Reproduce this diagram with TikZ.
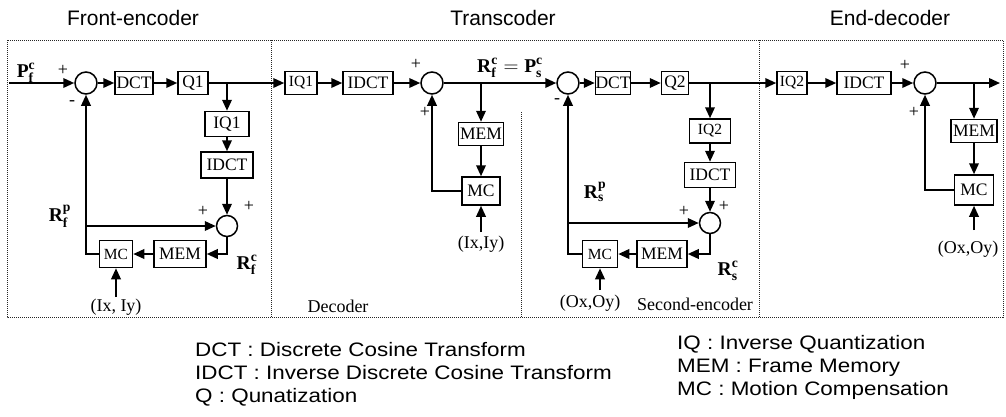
\documentclass[tikz,border=0pt]{standalone}
\usepackage{amsmath}
\usepackage{fontspec}
\setmainfont{Liberation Serif}
\setsansfont{Liberation Sans}
\newfontfamily\legfont{Liberation Sans}[FakeStretch=1.15]
\usetikzlibrary{arrows.meta}
\tikzset{
  blk/.style={draw, line width=1.5pt, inner sep=0pt, font=\fontsize{17.5}{19}\selectfont},
  blks/.style={blk, font=\fontsize{15.5}{17}\selectfont},
  sumc/.style={draw, circle, line width=1.5pt, minimum size=22pt, inner sep=0pt},
  conn/.style={line width=2pt},
  arr/.style={conn, -{Triangle[length=11pt,width=9.5pt]}},
  bord/.style={line width=0.9pt, dash pattern=on 1pt off 1pt, black!85},
  sgn/.style={font=\fontsize{18}{19}\selectfont, inner sep=0pt},
  lbl/.style={font=\fontsize{18}{20}\selectfont, inner sep=0pt},
  mlbl/.style={font=\fontsize{19.5}{21}\selectfont, inner sep=0pt},
  ttl/.style={font=\sffamily\fontsize{21}{24}\selectfont, inner sep=0pt},
  leg/.style={font=\legfont\fontsize{19.5}{22}\selectfont, anchor=base west, inner sep=0pt},
}
\begin{document}
\begin{tikzpicture}[x=1pt,y=-1pt]
\useasboundingbox (0,0) rectangle (1006,416);

% titles
\node[ttl] (t1) at (133,18) {Front-encoder};
\node[ttl] (t2) at (503,18) {Transcoder};
\node[ttl] (t3) at (890,18) {End-decoder};

% borders
\draw[bord] (7,40) rectangle (1003,317);
\draw[bord] (271,40) -- (271,317);
\draw[bord] (759,40) -- (759,317);
\draw[bord] (521,112) -- (521,317);

% ---------- Front encoder ----------
\coordinate (in1) at (9,83);
\node[sumc] (s1) at (86,83) {};
\node[blk, minimum width=38pt, minimum height=23pt] (dct1) at (134,83) {DCT};
\node[blk, minimum width=30pt, minimum height=23pt] (q1) at (193,83) {Q1};
\coordinate (b1) at (227,83);
\node[blk, minimum width=44pt, minimum height=25pt] (iq1) at (227,124) {IQ1};
\node[blk, minimum width=52pt, minimum height=26pt] (idct1) at (227,165) {IDCT};
\node[sumc, minimum size=21pt] (s2) at (227,226) {};
\node[blk, minimum width=52pt, minimum height=27pt] (mem1) at (180,254) {MEM};
\node[blks, minimum width=33pt, minimum height=27pt] (mc1) at (116,254) {MC};
\coordinate (fh1) at (86,226);
\coordinate (mcin1) at (116,297);

% ---------- Decoder ----------
\node[blks, minimum width=32pt, minimum height=23pt] (iq1b) at (301,83) {IQ1};
\node[blk, minimum width=50pt, minimum height=23pt] (idct2) at (368,83) {IDCT};
\node[sumc] (s3) at (432,83) {};
\coordinate (b2) at (481,83);
\node[blk, minimum width=45pt, minimum height=23pt] (mem2) at (481,134) {MEM};
\node[blk, minimum width=38pt, minimum height=28pt] (mc2) at (481,191) {MC};
\coordinate (mcin2) at (481,232);

% ---------- Second encoder ----------
\node[sumc] (s4) at (568,83) {};
\node[blk, minimum width=34pt, minimum height=23pt] (dct2) at (613,83) {DCT};
\node[blk, minimum width=27pt, minimum height=23pt] (q2) at (675,83) {Q2};
\coordinate (b3) at (710,83);
\node[blks, minimum width=41pt, minimum height=24pt] (iq2a) at (710,131) {IQ2};
\node[blk, minimum width=51pt, minimum height=25pt] (idct3) at (710,175) {IDCT};
\node[sumc, minimum size=21pt] (s5) at (710,223) {};
\node[blk, minimum width=50pt, minimum height=27pt] (mem3) at (662,254) {MEM};
\node[blks, minimum width=35pt, minimum height=27pt] (mc3) at (600,254) {MC};
\coordinate (fh2) at (568,223);
\coordinate (mcin3) at (600,290);

% ---------- End decoder ----------
\node[blks, minimum width=30pt, minimum height=23pt] (iq2b) at (792,83) {IQ2};
\node[blk, minimum width=54pt, minimum height=23pt] (idct4) at (864,83) {IDCT};
\node[sumc] (s6) at (925,83) {};
\coordinate (b4) at (974,83);
\coordinate (out) at (1000,83);
\node[blk, minimum width=46pt, minimum height=23pt] (mem4) at (974,131) {MEM};
\node[blk, minimum width=39pt, minimum height=30pt] (mc4) at (974,190) {MC};
\coordinate (mcin4) at (974,230);

% ---------- connectors: front encoder ----------
\draw[arr] (in1) -- (s1);
\draw[arr] (s1) -- (dct1);
\draw[arr] (dct1) -- (q1);
\draw[arr] (q1) -- (iq1b);
\draw[arr] (b1) -- (iq1);
\draw[arr] (iq1) -- (idct1);
\draw[arr] (idct1) -- (s2);
\draw[arr] (mc1.west) -| (s1.south);
\draw[arr] (fh1) -- (s2);
\draw[arr] (s2.south) |- (mem1.east);
\draw[arr] (mem1) -- (mc1);
\draw[arr] (mcin1) -- (mc1);

% ---------- connectors: decoder ----------
\draw[arr] (iq1b) -- (idct2);
\draw[arr] (idct2) -- (s3);
\draw[arr] (s3) -- (s4);
\draw[arr] (b2) -- (mem2);
\draw[arr] (mem2) -- (mc2);
\draw[arr] (mc2.west) -| (s3.south);
\draw[arr] (mcin2) -- (mc2);

% ---------- connectors: second encoder ----------
\draw[arr] (s4) -- (dct2);
\draw[arr] (dct2) -- (q2);
\draw[arr] (q2) -- (iq2b);
\draw[arr] (b3) -- (iq2a);
\draw[arr] (iq2a) -- (idct3);
\draw[arr] (idct3) -- (s5);
\draw[arr] (fh2) -- (s5);
\draw[arr] (s5.south) |- (mem3.east);
\draw[arr] (mem3) -- (mc3);
\draw[arr] (mc3.west) -| (s4.south);
\draw[arr] (mcin3) -- (mc3);

% ---------- connectors: end decoder ----------
\draw[arr] (iq2b) -- (idct4);
\draw[arr] (idct4) -- (s6);
\draw[arr] (s6) -- (out);
\draw[arr] (b4) -- (mem4);
\draw[arr] (mem4) -- (mc4);
\draw[arr] (mc4.west) -| (s6.south);
\draw[arr] (mcin4) -- (mc4);

% ---------- labels ----------
\node[mlbl] (pfc) at (26,73) {$\textbf{P}^{\textbf{c}}_{\textbf{f}}$};
\node[sgn] (p1) at (63,70) {+};
\node[sgn] (m1) at (72,103) {-};
\node[mlbl] (rfp) at (60,216) {$\textbf{R}^{\textbf{p}}_{\textbf{f}}$};
\node[sgn] (p2) at (203,211) {+};
\node[sgn] (p3) at (249,206) {+};
\node[mlbl] (rfc) at (247,265) {$\textbf{R}^{\textbf{c}}_{\textbf{f}}$};
\node[lbl] (ixy1) at (116,307) {(Ix, Iy)};

\node[sgn] (p4) at (416,64) {+};
\node[sgn] (p5) at (425,112) {+};
\node[lbl] (ixy2) at (481,244) {(Ix,Iy)};
\node[lbl] (dec) at (338,306) {Decoder};
\node[mlbl] (eq) at (510,68) {$\textbf{R}^{\textbf{c}}_{\textbf{f}} = \textbf{P}^{\textbf{c}}_{\textbf{s}}$};

\node[sgn] (m2) at (557,101) {-};
\node[mlbl] (rsp) at (595,192) {$\textbf{R}^{\textbf{p}}_{\textbf{s}}$};
\node[sgn] (p6) at (684,211) {+};
\node[sgn] (p7) at (724,206) {+};
\node[mlbl] (rsc) at (728,271) {$\textbf{R}^{\textbf{c}}_{\textbf{s}}$};
\node[lbl] (oxy1) at (590,303) {(Ox,Oy)};
\node[lbl] (senc) at (695,304) {Second-encoder};

\node[sgn] (p8) at (905,65) {+};
\node[sgn] (p9) at (914,112) {+};
\node[lbl] (oxy2) at (968,249) {(Ox,Oy)};

% ---------- legend ----------
\node[leg] (l1) at (195,356) {DCT : Discrete Cosine Transform};
\node[leg] (l2) at (195,379) {IDCT : Inverse Discrete Cosine Transform};
\node[leg] (l3) at (195,402) {Q : Qunatization};
\node[leg] (l4) at (677,349) {IQ : Inverse Quantization};
\node[leg] (l5) at (677,372) {MEM : Frame Memory};
\node[leg] (l6) at (677,395) {MC : Motion Compensation};
\end{tikzpicture}
\end{document}
